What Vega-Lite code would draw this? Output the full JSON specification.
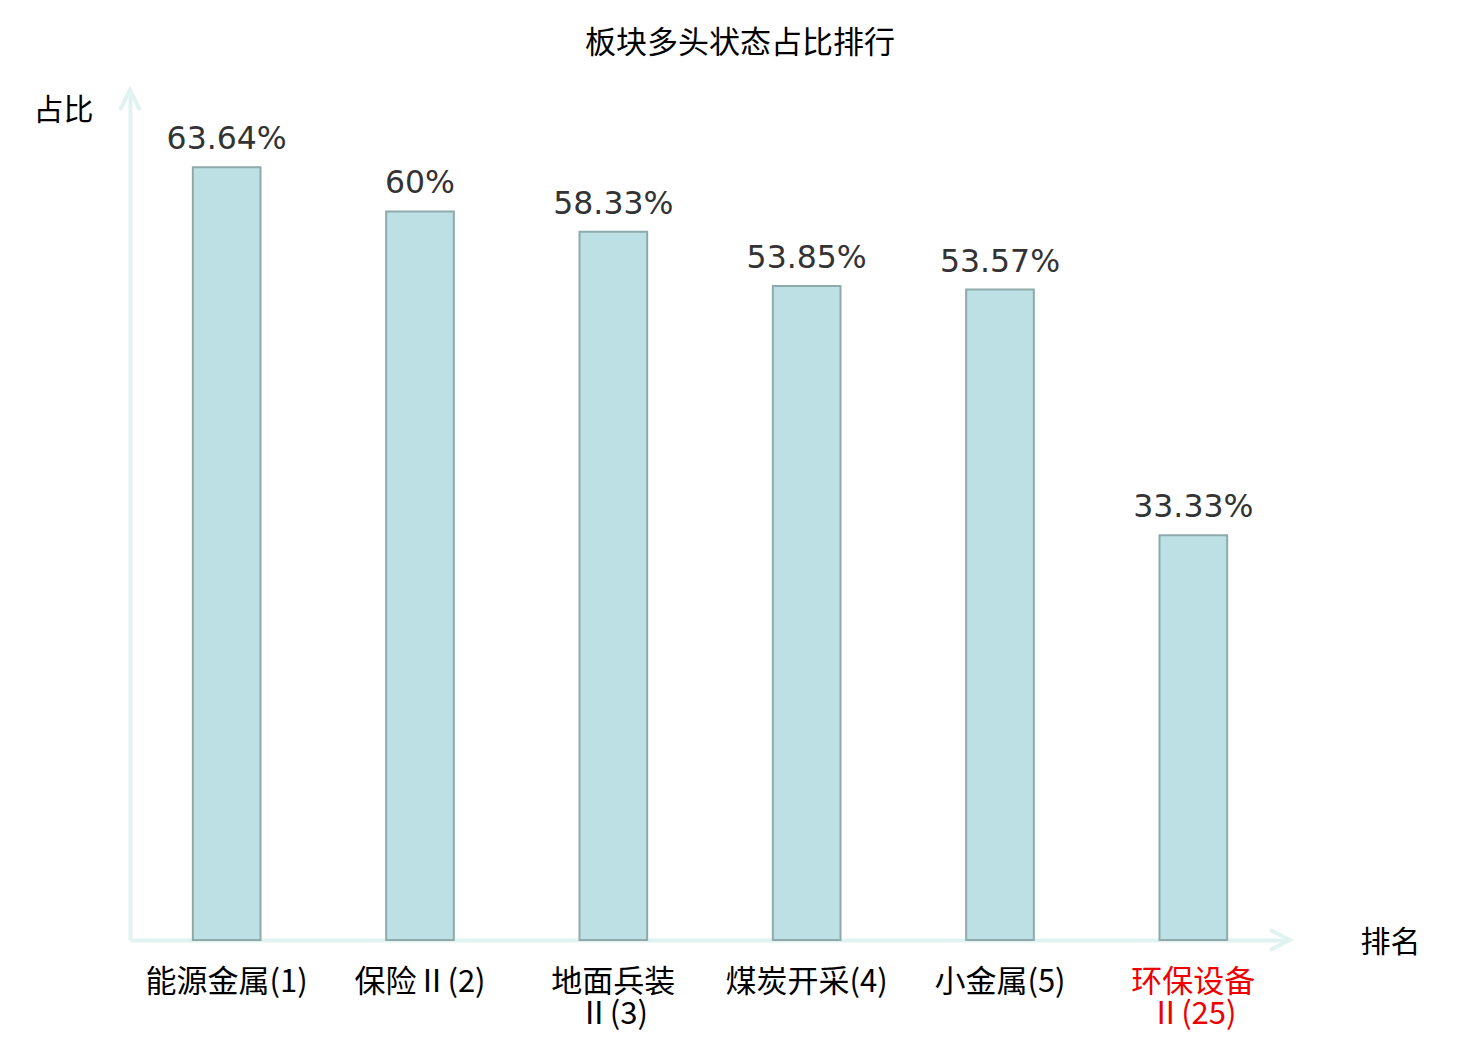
{
  "$schema": "https://vega.github.io/schema/vega-lite/v6.json",
  "autosize": "none",
  "width": 1160,
  "height": 850,
  "padding": {"left": 130, "top": 90, "right": 190, "bottom": 100},
  "background": "#ffffff",
  "title": {
    "text": "板块多头状态占比排行",
    "font": "Noto Sans CJK SC",
    "fontSize": 31,
    "fontWeight": "normal",
    "color": "#000000",
    "anchor": "middle",
    "dx": 30,
    "offset": 22
  },
  "config": {
    "view": {"stroke": null},
    "axis": {"grid": false, "ticks": false}
  },
  "datasets": {
    "bars": [
      {"name": "能源金属(1)", "v": 0.6364},
      {"name": "保险Ⅱ(2)", "v": 0.6},
      {"name": "地面兵装Ⅱ(3)", "v": 0.5833},
      {"name": "煤炭开采(4)", "v": 0.5385},
      {"name": "小金属(5)", "v": 0.5357},
      {"name": "环保设备Ⅱ(25)", "v": 0.3333}
    ],
    "arrowY": [{"ax": 0, "v": 0.7}],
    "arrowX": [{"ax": 1, "v": 0}]
  },
  "layer": [
    {
      "data": {"name": "bars"},
      "encoding": {
        "x": {
          "field": "name",
          "type": "nominal",
          "sort": null,
          "scale": {"paddingInner": 0.65, "paddingOuter": 0.325},
          "axis": {
            "title": "排名",
            "titleFont": "Noto Sans CJK SC",
            "titleFontSize": 30,
            "titleFontWeight": "normal",
            "titleColor": "#000000",
            "titleAngle": 0,
            "titleX": 1260,
            "titleY": 2,
            "titleAlign": "center",
            "titleBaseline": "middle",
            "domainColor": "#e0f3f1",
            "domainWidth": 4,
            "labelFont": "Noto Sans CJK SC",
            "labelFontSize": 31,
            "labelAngle": 0,
            "labelPadding": 27,
            "labelLimit": 400,
            "labelOverlap": false,
            "labelLineHeight": 32,
            "labelColor": {
              "condition": {"test": "datum.value == '环保设备Ⅱ(25)'", "value": "#ee0000"},
              "value": "#000000"
            },
            "labelExpr": "length(datum.label) >= 8 ? [substring(datum.label, 0, 4), substring(datum.label, 4)] : datum.label"
          }
        },
        "y": {
          "field": "v",
          "type": "quantitative",
          "scale": {"domain": [0, 0.7], "nice": false},
          "axis": {
            "title": "占比",
            "titleFont": "Noto Sans CJK SC",
            "titleFontSize": 30,
            "titleFontWeight": "normal",
            "titleColor": "#000000",
            "titleAngle": 0,
            "titleX": -67,
            "titleY": 20,
            "titleAlign": "center",
            "titleBaseline": "middle",
            "labels": false,
            "domainColor": "#e0f3f1",
            "domainWidth": 4
          }
        }
      },
      "layer": [
        {
          "mark": {"type": "bar", "fill": "#bce0e3", "stroke": "#8eaaab", "strokeWidth": 2}
        },
        {
          "mark": {
            "type": "text",
            "font": "DejaVu Sans",
            "fontSize": 31.5,
            "color": "#333333",
            "baseline": "bottom",
            "dy": -11
          },
          "encoding": {"text": {"field": "v", "type": "quantitative", "format": ".4~%"}}
        }
      ]
    },
    {
      "data": {"name": "arrowY"},
      "mark": {
        "type": "point",
        "shape": "M-1,2L0,0L1,2",
        "filled": false,
        "stroke": "#e0f3f1",
        "strokeWidth": 4,
        "size": 400,
        "opacity": 1,
        "angle": 0
      },
      "encoding": {
        "x": {"field": "ax", "type": "quantitative", "scale": {"domain": [0, 1], "nice": false}, "axis": null},
        "y": {"field": "v", "type": "quantitative"}
      }
    },
    {
      "data": {"name": "arrowX"},
      "mark": {
        "type": "point",
        "shape": "M-1,2L0,0L1,2",
        "filled": false,
        "stroke": "#e0f3f1",
        "strokeWidth": 4,
        "size": 400,
        "opacity": 1,
        "angle": 90
      },
      "encoding": {
        "x": {"field": "ax", "type": "quantitative", "scale": {"domain": [0, 1], "nice": false}, "axis": null},
        "y": {"field": "v", "type": "quantitative"}
      }
    }
  ],
  "resolve": {"scale": {"x": "independent"}}
}
